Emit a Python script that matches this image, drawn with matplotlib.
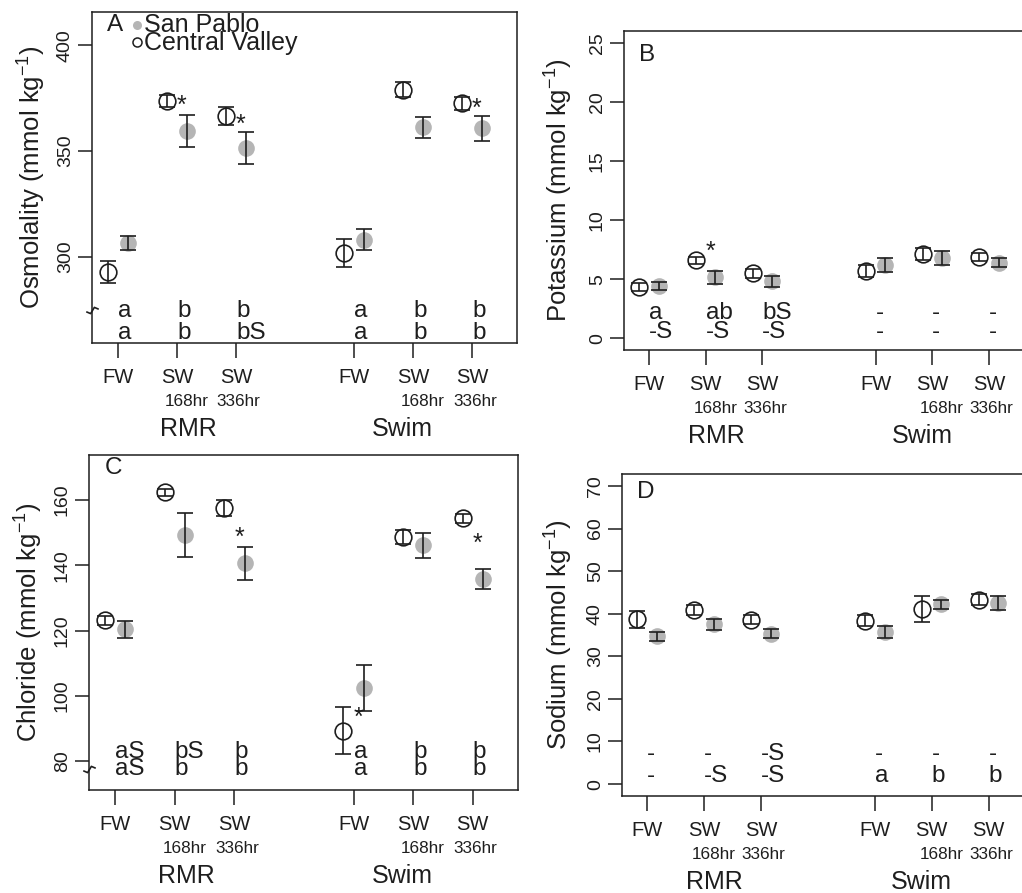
import matplotlib.pyplot as plt
from matplotlib.path import Path

plt.rcParams['font.family'] = ['Liberation Sans', 'DejaVu Sans']
plt.rcParams['mathtext.default'] = 'regular'

# x positions and labels (shared by all panels)
pos = [1, 2, 3, 5, 6, 7]
x_top = ['FW', 'SW', 'SW', 'FW', 'SW', 'SW']
x_sub = ['', '168hr', '336hr', '', '168hr', '336hr']
groups = ['RMR', 'Swim']
group_x = [2.19, 5.82]

# A: osmolality
osm_cv = [293.0, 373.7, 366.5, 301.7, 379.1, 372.5]
osm_cv_se = [5.2, 3.0, 4.2, 6.6, 3.5, 3.3]
osm_sp = [306.6, 359.4, 351.3, 308.0, 361.2, 360.7]
osm_sp_se = [3.3, 7.5, 7.5, 4.9, 4.9, 6.0]
osm_top = ['a', 'b', 'b', 'a', 'b', 'b']
osm_bot = ['a', 'b', 'bS', 'a', 'b', 'b']
osm_star = [(1, 374.5), (2, 365.6), (5, 373.1)]   # (index, y)

# B: potassium
k_cv = [4.3, 6.6, 5.5, 5.7, 7.1, 6.85]
k_cv_se = [0.35, 0.3, 0.37, 0.5, 0.5, 0.35]
k_sp = [4.4, 5.15, 4.8, 6.2, 6.75, 6.4]
k_sp_se = [0.35, 0.55, 0.48, 0.56, 0.6, 0.38]
k_top = ['a', 'ab', 'bS', '-', '-', '-']
k_bot = ['-S', '-S', '-S', '-', '-', '-']
k_star = [(1, 7.9)]

# C: chloride
cl_cv = [123.2, 162.4, 157.5, 89.4, 148.7, 154.4]
cl_cv_se = [1.3, 1.1, 2.5, 7.2, 2.0, 1.3]
cl_sp = [120.4, 149.3, 140.6, 102.5, 146.2, 135.8]
cl_sp_se = [2.5, 6.8, 5.0, 7.0, 3.8, 3.0]
cl_top = ['aS', 'bS', 'b', 'a', 'b', 'b']
cl_bot = ['aS', 'b', 'b', 'a', 'b', 'b']
cl_star = [(2, 150.6), (3, 95.4), (5, 148.6)]

# D: sodium
na_cv = [38.7, 40.8, 38.6, 38.4, 41.1, 43.3]
na_cv_se = [2.0, 1.2, 1.0, 1.2, 3.0, 1.3]
na_sp = [34.7, 37.5, 35.3, 35.7, 42.2, 42.5]
na_sp_se = [1.0, 1.3, 1.0, 1.4, 1.0, 1.7]
na_top = ['-', '-', '-S', '-', '-', '-']
na_bot = ['-', '-S', '-S', 'a', 'b', 'b']
na_star = []

gray = '#b5b5b5'
ink = '#1e1e1e'

zig = Path([(-1.0, -0.2), (-0.3, -0.5), (0.3, 0.5), (1.0, 0.2)])

fig = plt.figure(figsize=(10.22, 8.93), dpi=100)


def panel(rect, letter, cv, cv_se, sp, sp_se, top, bot, stars,
          ylim, yticks, rows, ylabel, ylab_x, brk=None):
    ax = fig.add_axes(rect)
    xc = [p - 0.17 for p in pos]
    xs = [p + 0.17 for p in pos]
    ax.plot(xs, sp, 'o', ms=12, color=gray, mec='none', zorder=1)
    ax.errorbar(xs, sp, yerr=sp_se, fmt='none', ecolor=ink, elinewidth=1.2,
                capsize=6, capthick=1.2, zorder=2)
    ax.errorbar(xc, cv, yerr=cv_se, fmt='none', ecolor=ink, elinewidth=1.2,
                capsize=6, capthick=1.2, zorder=2)
    ax.plot(xc, cv, 'o', ms=12, mfc='none', mec=ink, mew=1.2, zorder=3)

    for i, p in enumerate(pos):
        ax.text(p, rows[0], top[i], ha='left', va='center', fontsize=17.5, color=ink)
        ax.text(p, rows[1], bot[i], ha='left', va='center', fontsize=17.5, color=ink)
    for i, y in stars:
        ax.annotate('*', xy=(pos[i] + 0.08, y), xytext=(0, -10),
                    textcoords='offset points', ha='center', va='baseline',
                    fontsize=18, color=ink)

    ax.set_xlim(0.56, 7.76)
    ax.set_ylim(*ylim)
    ax.set_yticks(yticks)
    ax.set_xticks(pos)
    ax.set_xticklabels([])
    ax.tick_params(axis='y', labelrotation=90, labelsize=14, length=10,
                   width=1.1, pad=3, colors=ink)
    ax.tick_params(axis='x', length=11, width=1.1, colors=ink)
    for lab in ax.get_yticklabels():
        lab.set_va('center')
    for s in ax.spines.values():
        s.set_linewidth(1.1)
        s.set_color(ink)

    for i, p in enumerate(pos):
        ax.annotate(x_top[i], xy=(p, 0), xycoords=('data', 'axes fraction'),
                    xytext=(0, -25), textcoords='offset points',
                    ha='center', va='center', fontsize=14.5, color=ink)
        if x_sub[i]:
            dx = 7 if x_sub[i] == '168hr' else 2
            ax.annotate(x_sub[i], xy=(p, 0), xycoords=('data', 'axes fraction'),
                        xytext=(dx, -42), textcoords='offset points',
                        ha='center', va='center', fontsize=12.3, color=ink)
    for g, gx in zip(groups, group_x):
        ax.annotate(g, xy=(gx, 0), xycoords=('data', 'axes fraction'),
                    xytext=(0, -62), textcoords='offset points',
                    ha='center', va='center', fontsize=18, color=ink)

    ax.text(ylab_x, 0.5, ylabel, transform=ax.transAxes, rotation=90,
            ha='center', va='center', fontsize=18.5, color=ink)
    ax.text(letter[1], letter[2], letter[0], transform=ax.transAxes,
            ha='center', va='center', fontsize=17.5, color=ink)

    if brk is not None:
        ax.plot([0], [brk], marker=zig, ms=9, mfc='none', mec=ink, mew=1.2,
                transform=ax.get_yaxis_transform(), clip_on=False, zorder=5)
    return ax


axA = panel([0.0900, 0.6159, 0.4159, 0.3707], ('A', 0.054, 0.962),
            osm_cv, osm_cv_se, osm_sp, osm_sp_se, osm_top, osm_bot, osm_star,
            (259.2, 415.8), [300, 350, 400], (274.2, 264.0),
            'Osmolality (mmol kg$^{-1}$)', -0.142, brk=274.6)

# legend of panel A
axA.plot([0.106], [0.962], 'o', ms=6.5, color=gray, mec='none',
         transform=axA.transAxes, clip_on=False)
axA.plot([0.106], [0.909], 'o', ms=6.5, mfc='none', mec=ink, mew=1.1,
         transform=axA.transAxes, clip_on=False)
axA.text(0.122, 0.960, 'San Pablo', transform=axA.transAxes, ha='left',
         va='center', fontsize=18, color=ink)
axA.text(0.122, 0.905, 'Central Valley', transform=axA.transAxes, ha='left',
         va='center', fontsize=18, color=ink)

panel([0.6106, 0.6081, 0.3992, 0.3572], ('B', 0.056, 0.925),
      k_cv, k_cv_se, k_sp, k_sp_se, k_top, k_bot, k_star,
      (-1, 26), [0, 5, 10, 15, 20, 25], (2.09, 0.53),
      'Potassium (mmol kg$^{-1}$)', -0.159)

panel([0.0871, 0.1153, 0.4198, 0.3751], ('C', 0.057, 0.960),
      cl_cv, cl_cv_se, cl_sp, cl_sp_se, cl_top, cl_bot, cl_star,
      (71.2, 173.8), [80, 100, 120, 140, 160], (82.7, 77.5),
      'Chloride (mmol kg$^{-1}$)', -0.140, brk=77.5)

panel([0.6086, 0.1086, 0.4012, 0.3606], ('D', 0.058, 0.945),
      na_cv, na_cv_se, na_sp, na_sp_se, na_top, na_bot, na_star,
      (-2.8, 72.8), [0, 10, 20, 30, 40, 50, 60, 70], (7.0, 1.9),
      'Sodium (mmol kg$^{-1}$)', -0.153)

fig.savefig('out.png', dpi=100)
